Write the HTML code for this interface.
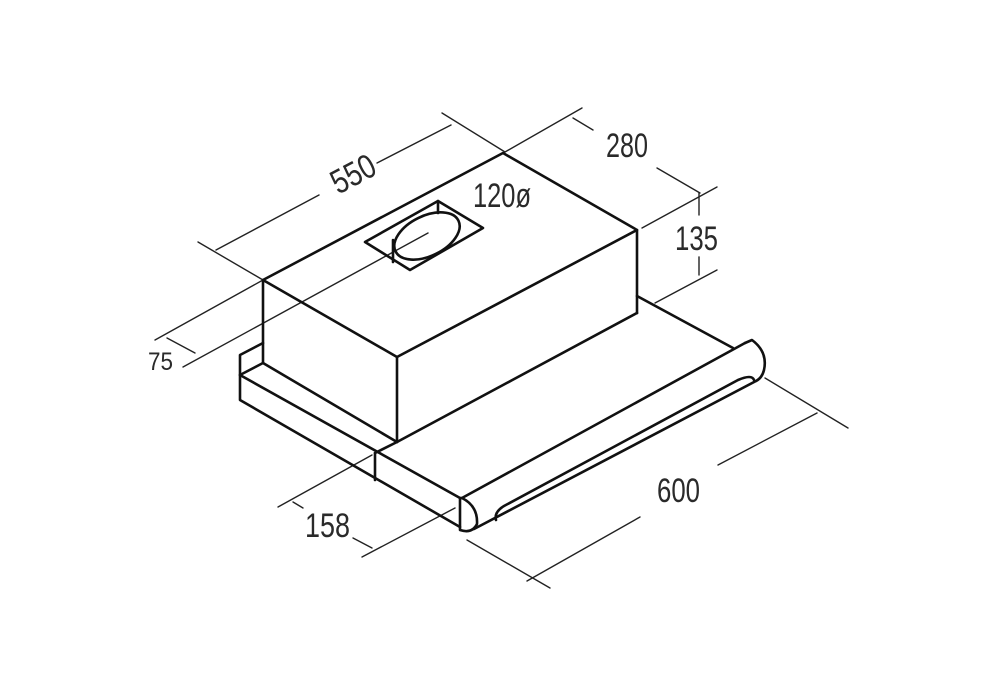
<!DOCTYPE html>
<html><head><meta charset="utf-8"><style>
html,body{margin:0;padding:0;background:#fff;}
svg{display:block}
text{font-family:"Liberation Sans",sans-serif;fill:#2a2a2a;}
</style></head><body>
<svg width="998" height="700" viewBox="0 0 998 700" xmlns="http://www.w3.org/2000/svg">
<rect width="998" height="700" fill="#fff"/>
<g stroke="#222" stroke-width="1.4" fill="none" stroke-linecap="round">
  <line x1="198" y1="242" x2="263" y2="280"/>
  <line x1="442" y1="113" x2="505" y2="152"/>
  <line x1="216" y1="250" x2="319" y2="195"/>
  <line x1="377" y1="163" x2="451" y2="125"/>
  <line x1="505" y1="152" x2="582" y2="108"/>
  <line x1="573" y1="118" x2="593" y2="130"/>
  <line x1="657" y1="168" x2="700" y2="193"/>
  <line x1="642" y1="228" x2="717" y2="187"/>
  <line x1="655" y1="303" x2="717" y2="270"/>
  <line x1="699" y1="193" x2="699" y2="215"/>
  <line x1="699" y1="257" x2="699" y2="275"/>
  <line x1="155" y1="340" x2="263" y2="280"/>
  <line x1="183" y1="367" x2="428" y2="233"/>
  <line x1="167" y1="338" x2="195" y2="353"/>
  <line x1="278" y1="507" x2="372" y2="455"/>
  <line x1="362" y1="557" x2="455" y2="508"/>
  <line x1="293" y1="502" x2="303" y2="508"/>
  <line x1="353" y1="538" x2="372" y2="548"/>
  <line x1="467" y1="540" x2="550" y2="588"/>
  <line x1="765" y1="378" x2="848" y2="428"/>
  <line x1="527" y1="581" x2="640" y2="517"/>
  <line x1="718" y1="465" x2="817" y2="413"/>
</g>
<g stroke="#111" stroke-width="2.6" fill="none" stroke-linejoin="round" stroke-linecap="round">
  <polygon points="263,280 503,153 637,230 397,357"/>
  <line x1="263" y1="280" x2="263" y2="363"/>
  <line x1="397" y1="357" x2="397" y2="442"/>
  <line x1="637" y1="230" x2="637" y2="313"/>
  <line x1="263" y1="363" x2="397" y2="442"/>
  <line x1="397" y1="442" x2="637" y2="313"/>
  <polygon points="365,242 438,201 483,228 410,270"/>
  <ellipse cx="427" cy="236" rx="35" ry="20" transform="rotate(-26 427 236)"/>
  <line x1="393" y1="240" x2="393" y2="262"/>
  <line x1="438" y1="201" x2="438" y2="213"/>
  <polyline points="263,343 240,355 240,400 460,527"/>
  <line x1="240" y1="375" x2="263" y2="363"/>
  <line x1="240" y1="375" x2="460" y2="498"/>
  <line x1="375" y1="453" x2="375" y2="480"/>
  <line x1="375" y1="453" x2="397" y2="442"/>
  <line x1="637" y1="296" x2="733" y2="348"/>
  <path d="M460,498 L460,530 Q472,534 477,524 Q478,506 462,498 Z"/>
  <line x1="462" y1="498" x2="745" y2="343"/>
  <path d="M745,343 L752,340 Q768,352 764,370 Q762,378 756,381"/>
  <line x1="474" y1="529" x2="756" y2="381"/>
  <path d="M496,520 Q494,512 504,506 L738,380 Q752,374 754,380"/>
</g>
<g font-size="34">
  <text x="330" y="186" textLength="46" lengthAdjust="spacingAndGlyphs" transform="rotate(-28 352 174)">550</text>
  <text x="606" y="157" textLength="42" lengthAdjust="spacingAndGlyphs">280</text>
  <text x="473" y="207" textLength="58" lengthAdjust="spacingAndGlyphs">120ø</text>
  <text x="675" y="250" textLength="43" lengthAdjust="spacingAndGlyphs">135</text>
  <text x="148" y="370" font-size="25" textLength="25" lengthAdjust="spacingAndGlyphs">75</text>
  <text x="305" y="537" textLength="45" lengthAdjust="spacingAndGlyphs">158</text>
  <text x="657" y="502" textLength="43" lengthAdjust="spacingAndGlyphs">600</text>
</g>
</svg>
</body></html>
